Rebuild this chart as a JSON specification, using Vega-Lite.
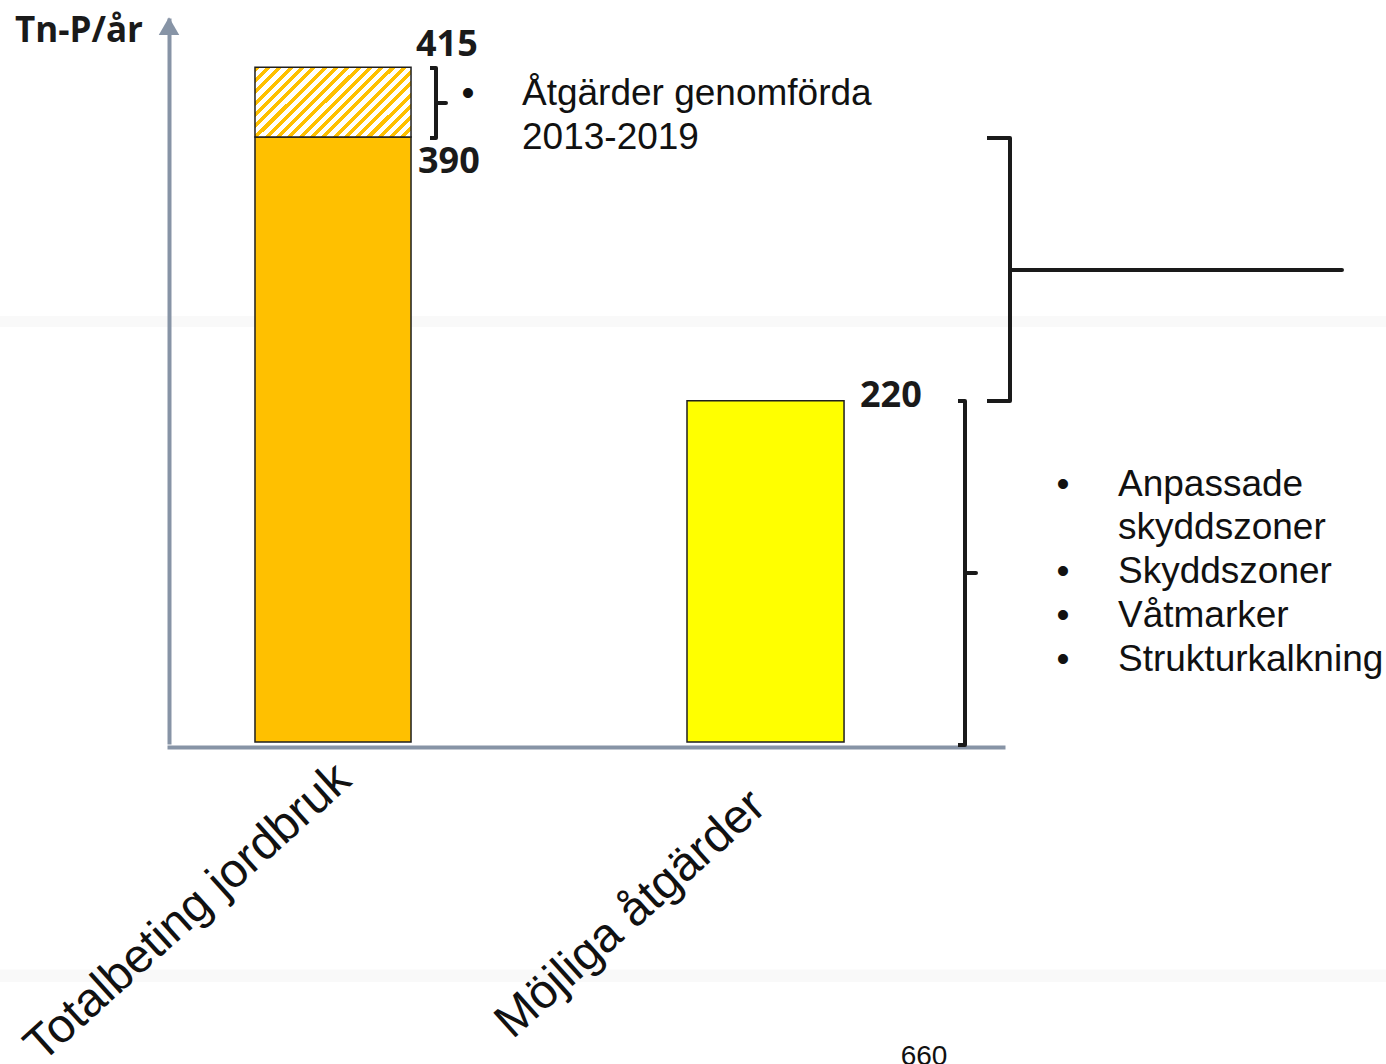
{
  "$schema": "https://vega.github.io/schema/vega-lite/v6.json",
  "autosize": {"type": "none"},
  "width": 834,
  "height": 722,
  "padding": {"left": 169, "top": 20, "right": 383, "bottom": 322},
  "background": "#ffffff",
  "config": {
    "view": {"stroke": null},
    "axis": {"labels": false, "ticks": false, "tickSize": 0, "grid": false, "domainColor": "#8794a6", "domainWidth": 4, "domainCap": "square"},
    "axisX": {"offset": 5},
    "axisY": {"offset": 0}
  },
  "layer": [
    {
      "data": {"values": [
        {"y0": 267.6, "y1": 274.7, "x0": -2.1, "x1": 14.7},
        {"y0": -154.7, "y1": -146.7, "x0": -2.1, "x1": 14.7}
      ]},
      "mark": {"type": "rect", "color": "#f9f9f9"},
      "encoding": {
        "x": {"field": "x0", "type": "quantitative", "title": null, "scale": {"domain": [0, 10], "nice": false, "zero": false}},
        "x2": {"field": "x1"},
        "y": {"field": "y0", "type": "quantitative", "title": null, "scale": {"domain": [0, 465.5], "nice": false, "zero": false}, "axis": {"zindex": 2}},
        "y2": {"field": "y1"}
      }
    },
    {
      "data": {"values": [
        {"kategori": "Totalbeting jordbruk", "x0": 1.031, "x1": 2.902, "v0": 0, "v1": 390},
        {"kategori": "Möjliga åtgärder", "x0": 6.211, "x1": 8.094, "v0": 0, "v1": 220}
      ]},
      "mark": {"type": "rect", "stroke": "#1f1f1f", "strokeWidth": 1.5},
      "encoding": {
        "x": {"field": "x0", "type": "quantitative", "title": null, "scale": {"domain": [0, 10], "nice": false, "zero": false}},
        "x2": {"field": "x1"},
        "y": {"field": "v0", "type": "quantitative", "title": null, "scale": {"domain": [0, 465.5], "nice": false, "zero": false}, "axis": {"zindex": 2}},
        "y2": {"field": "v1"},
        "color": {"field": "kategori", "type": "nominal", "scale": {"domain": ["Totalbeting jordbruk", "Möjliga åtgärder"], "range": ["#FFC000", "#FFFF00"]}, "legend": null}
      }
    },
    {
      "data": {"values": [
        {"kategori": "Totalbeting jordbruk", "del": "Åtgärder genomförda 2013-2019", "x0": 1.031, "x1": 2.902, "v0": 390, "v1": 435}
      ]},
      "mark": {"type": "rect", "stroke": "#1f1f1f", "strokeWidth": 1.5,
        "fill": {"gradient": "linear", "x1": 0, "y1": 0, "x2": 1.206, "y2": 0.5411, "stops": [
          {"offset": 0, "color": "#FFC000"}, {"offset": 0.0225, "color": "#FFC000"}, {"offset": 0.0225, "color": "#FFFFFF"}, {"offset": 0.05, "color": "#FFFFFF"},
          {"offset": 0.05, "color": "#FFC000"}, {"offset": 0.0725, "color": "#FFC000"}, {"offset": 0.0725, "color": "#FFFFFF"}, {"offset": 0.1, "color": "#FFFFFF"},
          {"offset": 0.1, "color": "#FFC000"}, {"offset": 0.1225, "color": "#FFC000"}, {"offset": 0.1225, "color": "#FFFFFF"}, {"offset": 0.15, "color": "#FFFFFF"},
          {"offset": 0.15, "color": "#FFC000"}, {"offset": 0.1725, "color": "#FFC000"}, {"offset": 0.1725, "color": "#FFFFFF"}, {"offset": 0.2, "color": "#FFFFFF"},
          {"offset": 0.2, "color": "#FFC000"}, {"offset": 0.2225, "color": "#FFC000"}, {"offset": 0.2225, "color": "#FFFFFF"}, {"offset": 0.25, "color": "#FFFFFF"},
          {"offset": 0.25, "color": "#FFC000"}, {"offset": 0.2725, "color": "#FFC000"}, {"offset": 0.2725, "color": "#FFFFFF"}, {"offset": 0.3, "color": "#FFFFFF"},
          {"offset": 0.3, "color": "#FFC000"}, {"offset": 0.3225, "color": "#FFC000"}, {"offset": 0.3225, "color": "#FFFFFF"}, {"offset": 0.35, "color": "#FFFFFF"},
          {"offset": 0.35, "color": "#FFC000"}, {"offset": 0.3725, "color": "#FFC000"}, {"offset": 0.3725, "color": "#FFFFFF"}, {"offset": 0.4, "color": "#FFFFFF"},
          {"offset": 0.4, "color": "#FFC000"}, {"offset": 0.4225, "color": "#FFC000"}, {"offset": 0.4225, "color": "#FFFFFF"}, {"offset": 0.45, "color": "#FFFFFF"},
          {"offset": 0.45, "color": "#FFC000"}, {"offset": 0.4725, "color": "#FFC000"}, {"offset": 0.4725, "color": "#FFFFFF"}, {"offset": 0.5, "color": "#FFFFFF"},
          {"offset": 0.5, "color": "#FFC000"}, {"offset": 0.5225, "color": "#FFC000"}, {"offset": 0.5225, "color": "#FFFFFF"}, {"offset": 0.55, "color": "#FFFFFF"},
          {"offset": 0.55, "color": "#FFC000"}, {"offset": 0.5725, "color": "#FFC000"}, {"offset": 0.5725, "color": "#FFFFFF"}, {"offset": 0.6, "color": "#FFFFFF"},
          {"offset": 0.6, "color": "#FFC000"}, {"offset": 0.6225, "color": "#FFC000"}, {"offset": 0.6225, "color": "#FFFFFF"}, {"offset": 0.65, "color": "#FFFFFF"},
          {"offset": 0.65, "color": "#FFC000"}, {"offset": 0.6725, "color": "#FFC000"}, {"offset": 0.6725, "color": "#FFFFFF"}, {"offset": 0.7, "color": "#FFFFFF"},
          {"offset": 0.7, "color": "#FFC000"}, {"offset": 0.7225, "color": "#FFC000"}, {"offset": 0.7225, "color": "#FFFFFF"}, {"offset": 0.75, "color": "#FFFFFF"},
          {"offset": 0.75, "color": "#FFC000"}, {"offset": 0.7725, "color": "#FFC000"}, {"offset": 0.7725, "color": "#FFFFFF"}, {"offset": 0.8, "color": "#FFFFFF"},
          {"offset": 0.8, "color": "#FFC000"}, {"offset": 0.8225, "color": "#FFC000"}, {"offset": 0.8225, "color": "#FFFFFF"}, {"offset": 0.85, "color": "#FFFFFF"},
          {"offset": 0.85, "color": "#FFC000"}, {"offset": 0.8725, "color": "#FFC000"}, {"offset": 0.8725, "color": "#FFFFFF"}, {"offset": 0.9, "color": "#FFFFFF"},
          {"offset": 0.9, "color": "#FFC000"}, {"offset": 0.9225, "color": "#FFC000"}, {"offset": 0.9225, "color": "#FFFFFF"}, {"offset": 0.95, "color": "#FFFFFF"},
          {"offset": 0.95, "color": "#FFC000"}, {"offset": 0.9725, "color": "#FFC000"}, {"offset": 0.9725, "color": "#FFFFFF"}, {"offset": 1, "color": "#FFFFFF"}
        ]}},
      "encoding": {
        "x": {"field": "x0", "type": "quantitative", "title": null, "scale": {"domain": [0, 10], "nice": false, "zero": false}},
        "x2": {"field": "x1"},
        "y": {"field": "v0", "type": "quantitative", "title": null, "scale": {"domain": [0, 465.5], "nice": false, "zero": false}},
        "y2": {"field": "v1"}
      }
    },
    {
      "data": {"values": [
        {"grupp": "a", "ordning": 1, "x": 3.1295, "y": 434.6},
        {"grupp": "a", "ordning": 2, "x": 3.2014, "y": 434.6},
        {"grupp": "a", "ordning": 3, "x": 3.2014, "y": 412.0},
        {"grupp": "a", "ordning": 4, "x": 3.3213, "y": 412.0},
        {"grupp": "a", "ordning": 5, "x": 3.2014, "y": 412.0},
        {"grupp": "a", "ordning": 6, "x": 3.2014, "y": 389.4},
        {"grupp": "a", "ordning": 7, "x": 3.1295, "y": 389.4},
        {"grupp": "b", "ordning": 1, "x": 9.8082, "y": 389.4},
        {"grupp": "b", "ordning": 2, "x": 10.0839, "y": 389.4},
        {"grupp": "b", "ordning": 3, "x": 10.0839, "y": 304.3},
        {"grupp": "b", "ordning": 4, "x": 14.0647, "y": 304.3},
        {"grupp": "b", "ordning": 5, "x": 10.0839, "y": 304.3},
        {"grupp": "b", "ordning": 6, "x": 10.0839, "y": 219.9},
        {"grupp": "b", "ordning": 7, "x": 9.8082, "y": 219.9},
        {"grupp": "c", "ordning": 1, "x": 9.4604, "y": 219.9},
        {"grupp": "c", "ordning": 2, "x": 9.5444, "y": 219.9},
        {"grupp": "c", "ordning": 3, "x": 9.5444, "y": 109.0},
        {"grupp": "c", "ordning": 4, "x": 9.6763, "y": 109.0},
        {"grupp": "c", "ordning": 5, "x": 9.5444, "y": 109.0},
        {"grupp": "c", "ordning": 6, "x": 9.5444, "y": -1.93},
        {"grupp": "c", "ordning": 7, "x": 9.4604, "y": -1.93}
      ]},
      "mark": {"type": "line", "color": "#1a1a1a", "strokeWidth": 4, "strokeJoin": "round", "strokeCap": "butt"},
      "encoding": {
        "x": {"field": "x", "type": "quantitative", "title": null, "scale": {"domain": [0, 10], "nice": false, "zero": false}},
        "y": {"field": "y", "type": "quantitative", "title": null, "scale": {"domain": [0, 465.5], "nice": false, "zero": false}},
        "detail": {"field": "grupp", "type": "nominal"},
        "order": {"field": "ordning", "type": "quantitative"}
      }
    },
    {
      "data": {"values": [{"x": 0, "y": 461.5}]},
      "mark": {"type": "point", "shape": "triangle-up", "filled": true, "size": 420, "color": "#8794a6", "opacity": 1},
      "encoding": {
        "x": {"field": "x", "type": "quantitative", "title": null, "scale": {"domain": [0, 10], "nice": false, "zero": false}},
        "y": {"field": "y", "type": "quantitative", "title": null, "scale": {"domain": [0, 465.5], "nice": false, "zero": false}}
      }
    },
    {
      "data": {"values": [{"text": "Tn-P/år", "x": -1.8465, "y": 451.3}]},
      "mark": {"type": "text", "font": "Open Sans", "fontWeight": "bold", "fontSize": 35, "align": "left", "baseline": "alphabetic", "color": "#1a1a1a"},
      "encoding": {
        "x": {"field": "x", "type": "quantitative", "title": null, "scale": {"domain": [0, 10], "nice": false, "zero": false}},
        "y": {"field": "y", "type": "quantitative", "title": null, "scale": {"domain": [0, 465.5], "nice": false, "zero": false}},
        "text": {"field": "text"}
      }
    },
    {
      "data": {"values": [
        {"text": "415", "x": 2.9616, "y": 442.3},
        {"text": "390", "x": 2.9856, "y": 366.9},
        {"text": "220", "x": 8.2854, "y": 216.0}
      ]},
      "mark": {"type": "text", "font": "Open Sans", "fontWeight": "bold", "fontSize": 36, "align": "left", "baseline": "alphabetic", "color": "#1a1a1a"},
      "encoding": {
        "x": {"field": "x", "type": "quantitative", "title": null, "scale": {"domain": [0, 10], "nice": false, "zero": false}},
        "y": {"field": "y", "type": "quantitative", "title": null, "scale": {"domain": [0, 465.5], "nice": false, "zero": false}},
        "text": {"field": "text"}
      }
    },
    {
      "data": {"values": [
        {"text": "•", "x": 3.5851, "y": 410.7},
        {"text": "•", "x": 10.7194, "y": 158.6},
        {"text": "•", "x": 10.7194, "y": 102.5},
        {"text": "•", "x": 10.7194, "y": 74.1},
        {"text": "•", "x": 10.7194, "y": 45.8}
      ]},
      "mark": {"type": "text", "font": "Liberation Sans", "fontSize": 37, "align": "center", "baseline": "alphabetic", "color": "#111111"},
      "encoding": {
        "x": {"field": "x", "type": "quantitative", "title": null, "scale": {"domain": [0, 10], "nice": false, "zero": false}},
        "y": {"field": "y", "type": "quantitative", "title": null, "scale": {"domain": [0, 465.5], "nice": false, "zero": false}},
        "text": {"field": "text"}
      }
    },
    {
      "data": {"values": [
        {"text": "Åtgärder genomförda", "x": 4.2326, "y": 410.7},
        {"text": "2013-2019", "x": 4.2326, "y": 382.3},
        {"text": "Anpassade", "x": 11.3789, "y": 158.6},
        {"text": "skyddszoner", "x": 11.3789, "y": 130.9},
        {"text": "Skyddszoner", "x": 11.3789, "y": 102.5},
        {"text": "Våtmarker", "x": 11.3789, "y": 74.1},
        {"text": "Strukturkalkning", "x": 11.3789, "y": 45.8}
      ]},
      "mark": {"type": "text", "font": "Liberation Sans", "fontSize": 37, "align": "left", "baseline": "alphabetic", "color": "#111111"},
      "encoding": {
        "x": {"field": "x", "type": "quantitative", "title": null, "scale": {"domain": [0, 10], "nice": false, "zero": false}},
        "y": {"field": "y", "type": "quantitative", "title": null, "scale": {"domain": [0, 465.5], "nice": false, "zero": false}},
        "text": {"field": "text"}
      }
    },
    {
      "data": {"values": [{"text": "660", "x": 9.0528, "y": -208.3}]},
      "mark": {"type": "text", "font": "Liberation Sans", "fontSize": 28, "align": "center", "baseline": "alphabetic", "color": "#111111"},
      "encoding": {
        "x": {"field": "x", "type": "quantitative", "title": null, "scale": {"domain": [0, 10], "nice": false, "zero": false}},
        "y": {"field": "y", "type": "quantitative", "title": null, "scale": {"domain": [0, 465.5], "nice": false, "zero": false}},
        "text": {"field": "text"}
      }
    },
    {
      "data": {"values": [
        {"text": "Totalbeting jordbruk", "x": 1.906, "y": -8.38},
        {"text": "Möjliga åtgärder", "x": 6.88, "y": -25.5}
      ]},
      "mark": {"type": "text", "font": "Liberation Sans", "fontSize": 48, "angle": -42, "align": "right", "baseline": "top", "color": "#111111"},
      "encoding": {
        "x": {"field": "x", "type": "quantitative", "title": null, "scale": {"domain": [0, 10], "nice": false, "zero": false}},
        "y": {"field": "y", "type": "quantitative", "title": null, "scale": {"domain": [0, 465.5], "nice": false, "zero": false}},
        "text": {"field": "text"}
      }
    }
  ]
}
